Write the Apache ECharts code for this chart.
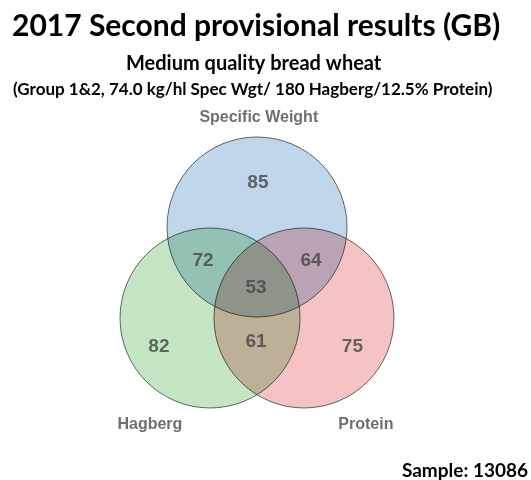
<!DOCTYPE html>
<html>
<head>
<meta charset="utf-8">
<script src="https://cdn.jsdelivr.net/npm/echarts@6/dist/echarts.min.js"></script>
<style>
  html, body { margin: 0; padding: 0; background: #fff; }
  #venn { width: 531px; height: 480px; }
</style>
</head>
<body>
<div id="venn"></div>
<script>
// set names and their circles (centre x, centre y, radius) in venn units
var setNames = ['Specific Weight', 'Hagberg', 'Protein'];
var circleX = [0, -0.522, 0.522];
var circleY = [0, -1.011, -1.011];
var circleR = [1, 1, 1];
var circleColors = ['rgb(192,214,234)', 'rgb(196,230,196)', 'rgb(245,195,195)'];

// where the set names sit
var nameX = [0.02, -1.19, 1.21];
var nameY = [1.22, -2.2, -2.2];

// region counts
var regionValues = [85, 72, 64, 53, 82, 61, 75];
var regionX = [0.01, -0.6, 0.6, -0.01, -1.09, -0.01, 1.06];
var regionY = [0.49, -0.38, -0.38, -0.68, -1.33, -1.28, -1.33];

var sampleSize = 13086;

var chart = echarts.init(document.getElementById('venn'));

var circleData = [];
for (var i = 0; i < setNames.length; i++) {
    circleData.push([circleX[i], circleY[i], circleR[i], setNames[i]]);
}
var nameData = [];
for (var j = 0; j < setNames.length; j++) {
    nameData.push([nameX[j], nameY[j], setNames[j]]);
}
var regionData = [];
for (var k = 0; k < regionValues.length; k++) {
    regionData.push([regionX[k], regionY[k], regionValues[k]]);
}

var option = {
    animation: false,
    backgroundColor: '#fff',
    title: [
        {
            text: '2017 Second provisional results (GB)',
            left: 12,
            top: 11,
            padding: 0,
            textStyle: { fontFamily: 'Lato', fontWeight: 'bold', fontSize: 30, color: '#000' }
        },
        {
            text: 'Medium quality bread wheat',
            left: 126,
            top: 54,
            padding: 0,
            textStyle: { fontFamily: 'Lato', fontWeight: 'bold', fontSize: 20, color: '#000' }
        },
        {
            text: '(Group 1&2, 74.0 kg/hl Spec Wgt/ 180 Hagberg/12.5% Protein)',
            left: 13,
            top: 81,
            padding: 0,
            textStyle: { fontFamily: 'Lato', fontWeight: 'bold', fontSize: 17, color: '#000' }
        },
        {
            text: 'Sample: ' + sampleSize,
            right: 3,
            top: 461,
            padding: 0,
            textStyle: { fontFamily: 'Lato', fontWeight: 'bold', fontSize: 19, color: '#000' }
        }
    ],
    grid: { left: 32, top: 92, width: 450, height: 360 },
    xAxis: { type: 'value', min: -2.5, max: 2.5, show: false },
    yAxis: { type: 'value', min: -2.5, max: 1.5, show: false },
    series: [
        {
            type: 'custom',
            silent: true,
            blendMode: 'multiply',
            data: circleData,
            renderItem: function (params, api) {
                var c = api.coord([api.value(0), api.value(1)]);
                var s = api.size([api.value(2), api.value(2)]);
                return {
                    type: 'circle',
                    shape: { cx: c[0], cy: c[1], r: s[0] },
                    style: {
                        fill: circleColors[params.dataIndex],
                        stroke: 'rgba(70,70,70,0.8)',
                        lineWidth: 1
                    }
                };
            }
        },
        {
            type: 'scatter',
            silent: true,
            symbolSize: 0,
            data: nameData,
            label: {
                show: true,
                position: 'inside',
                formatter: function (p) { return p.value[2]; },
                fontFamily: 'Liberation Sans',
                fontWeight: 'bold',
                fontSize: 16,
                color: '#4a4a4a'
            }
        },
        {
            type: 'scatter',
            silent: true,
            symbolSize: 0,
            data: regionData,
            label: {
                show: true,
                position: 'inside',
                formatter: function (p) { return p.value[2]; },
                fontFamily: 'Liberation Sans',
                fontWeight: 'bold',
                fontSize: 19,
                color: '#454545'
            }
        }
    ]
};

chart.setOption(option);
</script>
</body>
</html>
